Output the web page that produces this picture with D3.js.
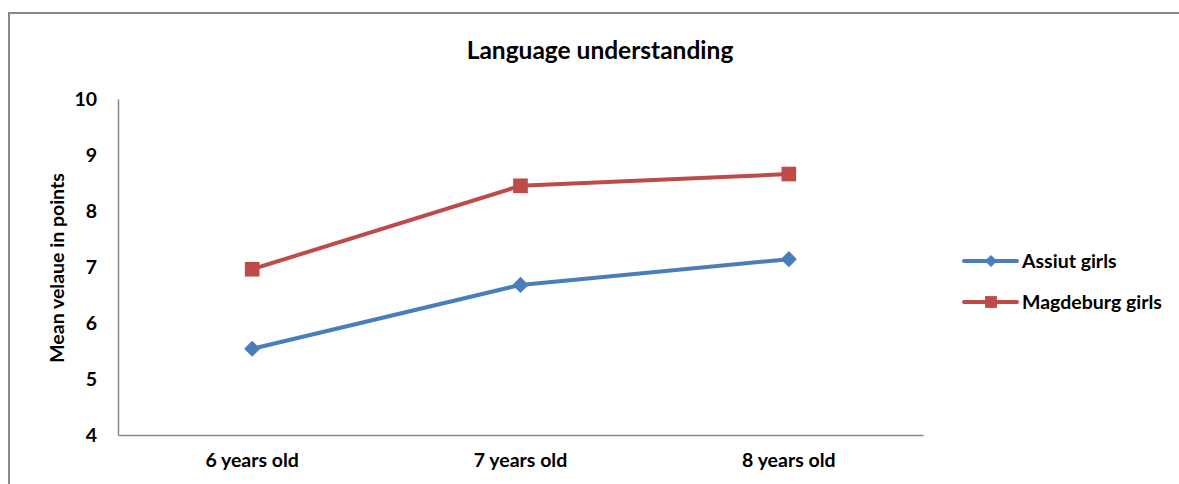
<!DOCTYPE html>
<html><head><meta charset="utf-8">
<script src="https://cdn.jsdelivr.net/npm/d3@7"></script>
<style>body{margin:0;background:#fff}svg{display:block}text{font-family:Lato,"Open Sans",sans-serif;font-weight:bold;fill:#000}</style>
</head><body><svg id="c" width="1179" height="484"></svg>
<script>
const categories = ["6 years old", "7 years old", "8 years old"];
const assiut = [5.54, 6.68, 7.14];
const magdeburg = [6.96, 8.45, 8.66];
const seriesNames = ["Assiut girls", "Magdeburg girls"];
const yTicks = [4, 5, 6, 7, 8, 9, 10];

const svg = d3.select("#c");
svg.append("rect").attr("x", 9).attr("y", 13).attr("width", 1200).attr("height", 500)
  .attr("fill", "none").attr("stroke", "#888").attr("stroke-width", 2);

const L = 118, R = 923, T = 99, B = 435;
const x = d3.scaleBand().domain(categories).range([L, R]);
const y = d3.scaleLinear().domain([4, 10]).range([B, T]);

svg.append("text").attr("x", 600).attr("y", 59).attr("text-anchor", "middle")
  .style("font-size", "24.5px").text("Language understanding");

const ya = svg.append("g").attr("transform", `translate(${L},0)`)
  .call(d3.axisLeft(y).tickValues(yTicks).tickSize(0).tickPadding(21).tickFormat(d3.format("d")));
ya.select(".domain").attr("stroke", "#888").attr("stroke-width", 1.5);
ya.selectAll("text").style("font-size", "19.5px").style("font-family", "Lato,sans-serif");

const xa = svg.append("g").attr("transform", `translate(0,${B})`)
  .call(d3.axisBottom(x).tickSize(0).tickPadding(18));
xa.select(".domain").attr("stroke", "#888").attr("stroke-width", 1.5);
xa.selectAll("text").style("font-size", "19.5px").style("font-family", "Lato,sans-serif");

svg.append("text").attr("transform", `translate(64,${(T + B) / 2 + 1}) rotate(-90)`)
  .attr("text-anchor", "middle").style("font-size", "19.5px").text("Mean velaue in points");

const cx = d => x(d) + x.bandwidth() / 2;
const line = d3.line().x((d, i) => cx(categories[i])).y(d => y(d));
const colors = ["#4a7ebb", "#be4b48"];
const data = [assiut, magdeburg];
const diamond = d3.symbol().type(d3.symbolSquare).size(130);
const square = d3.symbol().type(d3.symbolSquare).size(215);

data.forEach((vals, s) => {
  svg.append("path").datum(vals).attr("d", line).attr("fill", "none")
    .attr("stroke", colors[s]).attr("stroke-width", 4);
  svg.selectAll(null).data(vals).enter().append("path")
    .attr("d", s === 0 ? diamond : square)
    .attr("transform", (d, i) => `translate(${cx(categories[i])},${y(d)})` + (s === 0 ? " rotate(45)" : ""))
    .attr("fill", colors[s]);
});

const lg = svg.append("g");
seriesNames.forEach((n, s) => {
  const yy = 261 + s * 41;
  lg.append("line").attr("x1", 964).attr("x2", 1017).attr("y1", yy).attr("y2", yy)
    .attr("stroke", colors[s]).attr("stroke-width", 4).attr("stroke-linecap", "round");
  lg.append("path").attr("d", d3.symbol().type(d3.symbolSquare).size(s === 0 ? 75 : 140))
    .attr("transform", `translate(991,${yy})` + (s === 0 ? " rotate(45)" : "")).attr("fill", colors[s]);
  lg.append("text").attr("x", 1022).attr("y", yy + 7).style("font-size", "19.5px").text(n);
});
</script></body></html>
